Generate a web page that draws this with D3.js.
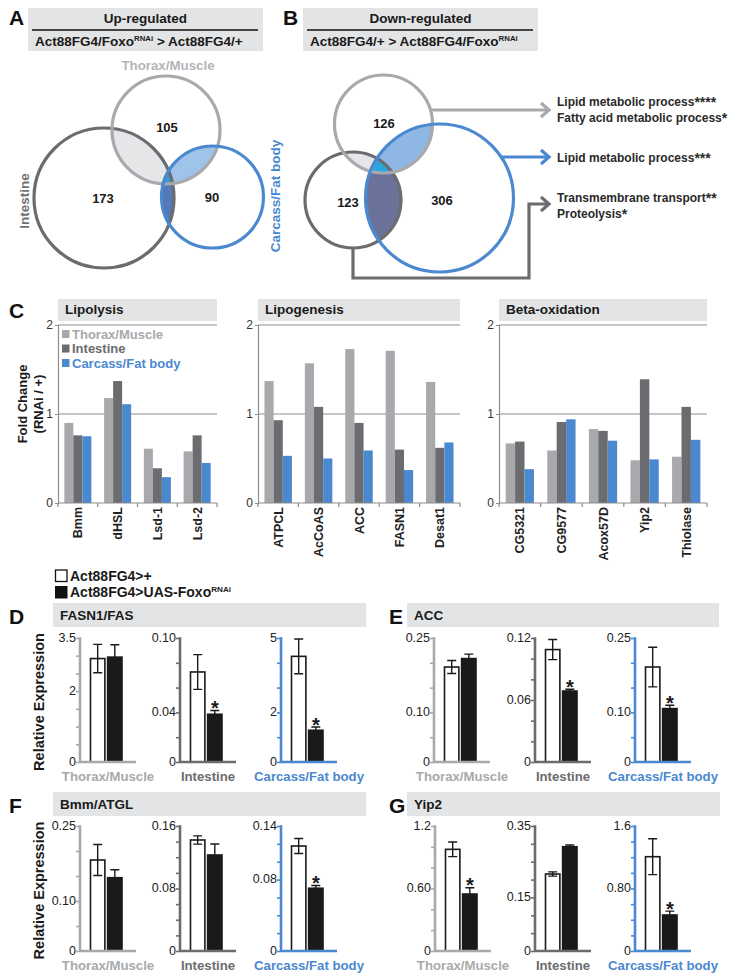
<!DOCTYPE html>
<html>
<head>
<meta charset="utf-8">
<script src="https://cdn.jsdelivr.net/npm/d3@7"></script>
<style>
  body { margin: 0; background: #fff; }
  text { font-family: "Liberation Sans", Arial, sans-serif; }
</style>
</head>
<body>
<div id="chart"></div>
<script>
// tissue colours
var thoraxColor = '#a7a9ac', gutColor = '#6b6c6f', fatColor = '#4a88cf';
var tissueColors = [thoraxColor, gutColor, fatColor];

// ---- data ----
var tissues = ['Thorax/Muscle', 'Intestine', 'Carcass/Fat body'];

// Venn counts: thorax, intestine, carcass
var upCounts = [105, 173, 90];
var downCounts = [126, 123, 306];

// GO terms for the down-regulated sets
var goThoraxTerms = ['Lipid metabolic process', 'Fatty acid metabolic process'];
var goThoraxStars = ['****', '*'];
var goFatTerms = ['Lipid metabolic process'];
var goFatStars = ['***'];
var goGutTerms = ['Transmembrane transport', 'Proteolysis'];
var goGutStars = ['**', '*'];

// C: fold change (RNAi / +), rows = thorax, intestine, carcass
var foldTicks = [0, 1, 2];
var lipolysisGenes = ['Bmm', 'dHSL', 'Lsd-1', 'Lsd-2'];
var lipolysisFold = [[0.90, 1.18, 0.61, 0.58], [0.76, 1.37, 0.39, 0.76], [0.75, 1.11, 0.29, 0.45]];
var lipogenesisGenes = ['ATPCL', 'AcCoAS', 'ACC', 'FASN1', 'Desat1'];
var lipogenesisFold = [[1.37, 1.57, 1.73, 1.71, 1.36], [0.93, 1.08, 0.90, 0.60, 0.62], [0.53, 0.50, 0.59, 0.37, 0.68]];
var betaGenes = ['CG5321', 'CG9577', 'Acox57D', 'Yip2', 'Thiolase'];
var betaFold = [[0.67, 0.59, 0.83, 0.48, 0.52], [0.69, 0.91, 0.81, 1.39, 1.08], [0.38, 0.94, 0.70, 0.49, 0.71]];

// D-G: relative expression, per tissue [control, RNAi]
var dTitle = 'FASN1/FAS';
var dMeans = [[2.92, 2.96], [0.0726, 0.0385], [4.26, 1.28]];
var dErrors = [[0.40, 0.35], [0.014, 0.003], [0.70, 0.13]];
var dMax = [3.5, 0.10, 5];
var dTickLabels = [['0', '2', '3.5'], ['0', '0.04', '0.10'], ['0', '2', '5']];
var dStep = [0.5, 0.02, 1];
var dStars = [[0, 0], [0, 1], [0, 1]];

var eTitle = 'ACC';
var eMeans = [[0.1915, 0.2085], [0.1088, 0.0687], [0.1915, 0.1077]];
var eErrors = [[0.013, 0.009], [0.0097, 0.0017], [0.040, 0.0067]];
var eMax = [0.25, 0.12, 0.25];
var eTickLabels = [['0', '0.10', '0.25'], ['0', '0.06', '0.12'], ['0', '0.10', '0.25']];
var eStep = [0.05, 0.02, 0.05];
var eStars = [[0, 0], [0, 1], [0, 1]];

var fTitle = 'Bmm/ATGL';
var fMeans = [[0.182, 0.1466], [0.1421, 0.1229], [0.1176, 0.0703]];
var fErrors = [[0.031, 0.016], [0.0053, 0.014], [0.0084, 0.003]];
var fMax = [0.25, 0.16, 0.14];
var fTickLabels = [['0', '0.10', '0.25'], ['0', '0.08', '0.16'], ['0', '0.08', '0.14']];
var fStep = [0.05, 0.02, 0.02];
var fStars = [[0, 0], [0, 0], [0, 1]];

var gTitle = 'Yip2';
var gMeans = [[0.976, 0.547], [0.2156, 0.292], [1.207, 0.461]];
var gErrors = [[0.07, 0.06], [0.006, 0.005], [0.23, 0.05]];
var gMax = [1.2, 0.35, 1.6];
var gTickLabels = [['0', '0.60', '1.2'], ['0', '0.15', '0.35'], ['0', '0.80', '1.6']];
var gStep = [0.2, 0.05, 0.2];
var gStars = [[0, 1], [0, 0], [0, 1]];

// ---- drawing ----
var svg = d3.select('#chart').append('svg')
    .attr('width', 744).attr('height', 980);
svg.append('rect').attr('width', 744).attr('height', 980).attr('fill', '#fff');
var defs = svg.append('defs');

function letter(t, x, y) {
    svg.append('text').attr('x', x).attr('y', y).text(t)
        .attr('font-size', 21).attr('font-weight', 'bold').attr('fill', '#111');
}

function headerBox(x, y, w, h) {
    svg.append('rect').attr('x', x).attr('y', y).attr('width', w).attr('height', h)
        .attr('fill', '#e3e4e5');
}

function boldText(g, t, x, y, size, color) {
    return g.append('text').attr('x', x).attr('y', y).text(t)
        .attr('font-size', size).attr('font-weight', 'bold').attr('fill', color || '#1a1a1a');
}

// genotype line with RNAi superscript
function genoLine(g, x, y, before, after, size) {
    var t = g.append('text').attr('x', x).attr('y', y)
        .attr('font-size', size).attr('font-weight', 'bold').attr('fill', '#1a1a1a');
    t.append('tspan').text(before);
    t.append('tspan').text('RNAi').attr('font-size', size * 0.58).attr('dy', -size * 0.38);
    if (after) t.append('tspan').text(after).attr('dy', size * 0.38);
    return t;
}

// ---------- A / B : Venn diagrams ----------
letter('A', 9, 25);
headerBox(28, 8, 235, 43);
boldText(svg, 'Up-regulated', 145.5, 23, 13.5).attr('text-anchor', 'middle');
svg.append('line').attr('x1', 32).attr('x2', 258).attr('y1', 30).attr('y2', 30)
    .attr('stroke', '#111').attr('stroke-width', 1.6);
genoLine(svg, 35, 46, 'Act88FG4/Foxo', ' > Act88FG4/+', 13.5);

letter('B', 283, 25);
headerBox(303, 8, 235, 43);
boldText(svg, 'Down-regulated', 420.5, 23, 13.5).attr('text-anchor', 'middle');
svg.append('line').attr('x1', 307).attr('x2', 533).attr('y1', 30).attr('y2', 30)
    .attr('stroke', '#111').attr('stroke-width', 1.6);
genoLine(svg, 310, 46, 'Act88FG4/+ > Act88FG4/Foxo', null, 13.5);

// circle layout: thorax, intestine, carcass
var vennA = {
    id: 'a',
    circles: [[166, 130, 54], [104, 198, 70], [212.5, 197, 51]],
    labels: [[167, 127], [103, 198], [212, 197]],
    fills: {ti: '#e5e6e8', tc: '#9ec4ea', ic: '#5479b6', tic: '#3a9ad9'}
};
var vennB = {
    id: 'b',
    circles: [[383.5, 124, 49], [353, 200, 48], [439.5, 198, 74]],
    labels: [[384, 123], [348, 202], [442, 200]],
    fills: {ti: '#e5e6e8', tc: '#8fb7e3', ic: '#6a7299', tic: '#2ba6df'}
};

function venn(v, counts) {
    var g = svg.append('g');
    v.circles.forEach(function (c, i) {
        defs.append('clipPath').attr('id', 'clip-' + v.id + i)
            .append('circle').attr('cx', c[0]).attr('cy', c[1]).attr('r', c[2]);
    });
    function clip(i) { return 'url(#clip-' + v.id + i + ')'; }
    function disc(parent, i, fill) {
        var c = v.circles[i];
        parent.append('circle').attr('cx', c[0]).attr('cy', c[1]).attr('r', c[2]).attr('fill', fill);
    }
    disc(g.append('g').attr('clip-path', clip(0)), 1, v.fills.ti);
    disc(g.append('g').attr('clip-path', clip(0)), 2, v.fills.tc);
    disc(g.append('g').attr('clip-path', clip(1)), 2, v.fills.ic);
    disc(g.append('g').attr('clip-path', clip(0)).append('g').attr('clip-path', clip(1)), 2, v.fills.tic);
    [1, 0, 2].forEach(function (i) {
        var c = v.circles[i];
        g.append('circle').attr('cx', c[0]).attr('cy', c[1]).attr('r', c[2])
            .attr('fill', 'none').attr('stroke', tissueColors[i]).attr('stroke-width', 3.2);
    });
    g.selectAll('.count').data(counts).enter().append('text')
        .attr('x', function (d, i) { return v.labels[i][0]; })
        .attr('y', function (d, i) { return v.labels[i][1]; })
        .attr('dy', '0.36em').attr('text-anchor', 'middle')
        .attr('font-size', 13).attr('font-weight', 'bold').attr('fill', '#1a1a1a')
        .text(function (d) { return d; });
}
venn(vennA, upCounts);
venn(vennB, downCounts);

// tissue names around Venn A
boldText(svg, tissues[0], 168, 70, 13.3, '#b3b5b8').attr('text-anchor', 'middle');
boldText(svg, tissues[1], 0, 0, 13.5, '#707174').attr('text-anchor', 'middle')
    .attr('transform', 'translate(29,201) rotate(-90)');
boldText(svg, tissues[2], 0, 0, 13.5, fatColor).attr('text-anchor', 'middle')
    .attr('transform', 'translate(280,196) rotate(-90)');

// arrows from Venn B to GO terms
function chevron(x, y, color) {
    svg.append('polyline')
        .attr('points', [[x - 8, y - 7], [x, y], [x - 8, y + 7]].join(' '))
        .attr('fill', 'none').attr('stroke', color).attr('stroke-width', 3.2)
        .attr('stroke-linejoin', 'miter');
}
var arrowTip = 549;
svg.append('path').attr('d', 'M432,110H' + (arrowTip - 1))
    .attr('stroke', thoraxColor).attr('stroke-width', 3.2).attr('fill', 'none');
chevron(arrowTip, 110, thoraxColor);
svg.append('path').attr('d', 'M500,157H' + (arrowTip - 1))
    .attr('stroke', fatColor).attr('stroke-width', 3.2).attr('fill', 'none');
chevron(arrowTip, 157, fatColor);
svg.append('path').attr('d', 'M353,248V278H529V204H' + (arrowTip - 1))
    .attr('stroke', gutColor).attr('stroke-width', 3.2).attr('fill', 'none');
chevron(arrowTip, 204, gutColor);

function goList(terms, stars, y0) {
    terms.forEach(function (t, i) {
        var tx = svg.append('text').attr('x', 557).attr('y', y0 + i * 16)
            .attr('font-size', 12).attr('font-weight', 'bold').attr('fill', '#2a2a2a');
        tx.append('tspan').text(t);
        tx.append('tspan').text(stars[i]).attr('font-size', 14).attr('dy', 1);
    });
}
goList(goThoraxTerms, goThoraxStars, 106);
goList(goFatTerms, goFatStars, 162);
goList(goGutTerms, goGutStars, 202);

// ---------- C : fold change bars ----------
letter('C', 9, 318);
var yFold = d3.scaleLinear().domain([0, 2]).range([503, 325]);

function foldPanel(title, genes, values, x0, x1) {
    headerBox(x0, 299, x1 - x0, 22);
    boldText(svg, title, x0 + 7, 314, 13.5);
    var g = svg.append('g');
    var x = d3.scaleBand().domain(genes).range([x0, x1]).paddingInner(0.32).paddingOuter(0.16);
    var xi = d3.scaleBand().domain([0, 1, 2]).range([0, x.bandwidth()]);

    // grid lines at 1 and 2
    g.selectAll('.grid').data(foldTicks.slice(1)).enter().append('line')
        .attr('x1', x0).attr('x2', x1)
        .attr('y1', function (d) { return yFold(d); }).attr('y2', function (d) { return yFold(d); })
        .attr('stroke', '#8e8e8e').attr('stroke-width', 1.2);

    // bars
    genes.forEach(function (gene, gi) {
        values.forEach(function (row, ti) {
            g.append('rect')
                .attr('x', x(gene) + xi(ti)).attr('width', xi.bandwidth())
                .attr('y', yFold(row[gi])).attr('height', yFold(0) - yFold(row[gi]))
                .attr('fill', tissueColors[ti]);
        });
    });

    // axes
    var ya = g.append('g').attr('transform', 'translate(' + x0 + ',0)')
        .call(d3.axisLeft(yFold).tickValues(foldTicks).tickSize(3).tickPadding(2).tickFormat(d3.format('d')));
    ya.select('.domain').attr('stroke', '#8e8e8e').attr('stroke-width', 1.2);
    ya.selectAll('.tick line').attr('stroke', '#8e8e8e');
    ya.selectAll('.tick text').attr('font-size', 12).attr('fill', '#333')
        .attr('font-family', '"Liberation Sans", Arial, sans-serif');

    g.append('line').attr('x1', x0).attr('x2', x1).attr('y1', yFold(0)).attr('y2', yFold(0))
        .attr('stroke', '#8e8e8e').attr('stroke-width', 1.2);
    var edges = d3.range(genes.length + 1).map(function (i) { return x0 + i * x.step(); });
    g.selectAll('.xt').data(edges).enter().append('line')
        .attr('x1', function (d) { return d; }).attr('x2', function (d) { return d; })
        .attr('y1', yFold(0)).attr('y2', yFold(0) + 4)
        .attr('stroke', '#8e8e8e').attr('stroke-width', 1.2);

    g.selectAll('.xl').data(genes).enter().append('text')
        .attr('transform', function (d) {
            return 'translate(' + (x(d) + x.bandwidth() / 2) + ',507) rotate(-90)';
        })
        .attr('text-anchor', 'end').attr('dy', '0.36em')
        .attr('font-size', 12.5).attr('font-weight', 'bold').attr('fill', '#222')
        .text(function (d) { return d; });
}
foldPanel('Lipolysis', lipolysisGenes, lipolysisFold, 58, 217);
foldPanel('Lipogenesis', lipogenesisGenes, lipogenesisFold, 258, 460);
foldPanel('Beta-oxidation', betaGenes, betaFold, 499, 707);

// legend C
tissues.forEach(function (t, i) {
    var y = 334 + i * 14.5;
    svg.append('rect').attr('x', 62).attr('y', y - 4).attr('width', 7.5).attr('height', 8)
        .attr('fill', tissueColors[i]);
    boldText(svg, t, 72, y + 4.7, 13, tissueColors[i]);
});

// y label C
var fl = svg.append('g').attr('transform', 'translate(0,404) rotate(-90)');
boldText(fl, 'Fold Change', 0, 27, 13).attr('text-anchor', 'middle');
boldText(fl, '(RNAi / +)', 0, 43, 13).attr('text-anchor', 'middle');

// ---------- legend for D-G ----------
svg.append('rect').attr('x', 55.5).attr('y', 570).attr('width', 11.5).attr('height', 11.5)
    .attr('fill', '#fff').attr('stroke', '#111').attr('stroke-width', 1.3);
svg.append('rect').attr('x', 55).attr('y', 586).attr('width', 12.5).attr('height', 12.5)
    .attr('fill', '#111');
boldText(svg, 'Act88FG4>+', 70, 581, 14);
genoLine(svg, 70, 597, 'Act88FG4>UAS-Foxo', null, 14);

// ---------- D-G : qPCR panels ----------
function qpcrPanel(p) {
    letter(p.letter, p.lx, p.ly);
    headerBox(p.hx, p.hy, p.hw, 24);
    boldText(svg, p.title, p.hx + 7, p.hy + 17, 13.5);
    var g = svg.append('g');
    p.means.forEach(function (m, ti) {
        var ax = p.axes[ti];
        var col = tissueColors[ti];
        var y = d3.scaleLinear().domain([0, p.max[ti]]).range([p.yBot, p.yTop]);
        var x = d3.scaleBand().domain([0, 1]).range([ax + 10.5, ax + 42]).paddingInner(0.16);

        // bars with error bars
        m.forEach(function (v, k) {
            g.append('rect').attr('x', x(k)).attr('width', x.bandwidth())
                .attr('y', y(v)).attr('height', y(0) - y(v))
                .attr('fill', k ? '#1a1a1a' : '#fff')
                .attr('stroke', '#1a1a1a').attr('stroke-width', 1.6);
            var e = p.errors[ti][k], cx = x(k) + x.bandwidth() / 2;
            g.append('path')
                .attr('d', 'M' + cx + ',' + y(v - e) + 'V' + y(v + e) +
                    'M' + (cx - 4.5) + ',' + y(v + e) + 'H' + (cx + 4.5) +
                    'M' + (cx - 4.5) + ',' + y(v - e) + 'H' + (cx + 4.5))
                .attr('stroke', '#1a1a1a').attr('stroke-width', 1.4).attr('fill', 'none');
            if (k && p.stars[ti][k]) {
                g.append('text').attr('x', cx).attr('y', y(v + e) + 4.5)
                    .attr('text-anchor', 'middle').attr('font-size', 20).attr('font-weight', 'bold')
                    .attr('fill', '#1a1a1a').text('*');
            }
        });
        var ticks = d3.range(0, p.max[ti] + p.step[ti] / 2, p.step[ti]);
        var ya = g.append('g').attr('transform', 'translate(' + ax + ',0)')
            .call(d3.axisLeft(y).tickValues(ticks).tickSize(4).tickFormat(''));
        ya.select('.domain').remove();
        ya.selectAll('.tick line').attr('stroke', col).attr('stroke-width', 1.6);
        g.append('line').attr('x1', ax).attr('x2', ax).attr('y1', p.yTop - 0.8).attr('y2', p.yBot + 1)
            .attr('stroke', col).attr('stroke-width', 2.6);
        g.append('line').attr('x1', ax).attr('x2', ax + 56).attr('y1', p.yBot).attr('y2', p.yBot)
            .attr('stroke', col).attr('stroke-width', 2.6);
        g.selectAll('.tl' + ti).data(p.labels[ti]).enter().append('text')
            .attr('x', ax - 4).attr('y', function (d) { return y(+d); })
            .attr('dy', '0.3em').attr('text-anchor', 'end')
            .attr('font-size', 12.5).attr('fill', '#222')
            .text(function (d) { return d; });
        boldText(g, tissues[ti], ax + 28, p.yBot + 19, 13.2, col).attr('text-anchor', 'middle');
    });
    if (p.ylabel) {
        boldText(svg, 'Relative Expression', 0, 0, 14.5).attr('text-anchor', 'middle')
            .attr('transform', 'translate(44,' + ((p.yTop + p.yBot) / 2 + 2) + ') rotate(-90)');
    }
}

qpcrPanel({letter: 'D', lx: 9, ly: 624, hx: 53, hy: 603, hw: 313, title: dTitle,
    axes: [80, 180, 281], yTop: 638, yBot: 762, means: dMeans, errors: dErrors, max: dMax,
    labels: dTickLabels, step: dStep, stars: dStars, ylabel: true});
qpcrPanel({letter: 'E', lx: 389, ly: 624, hx: 407, hy: 603, hw: 312, title: eTitle,
    axes: [434, 535, 635], yTop: 638, yBot: 762, means: eMeans, errors: eErrors, max: eMax,
    labels: eTickLabels, step: eStep, stars: eStars, ylabel: false});
qpcrPanel({letter: 'F', lx: 9, ly: 813, hx: 53, hy: 792, hw: 313, title: fTitle,
    axes: [80, 180, 281], yTop: 826, yBot: 951, means: fMeans, errors: fErrors, max: fMax,
    labels: fTickLabels, step: fStep, stars: fStars, ylabel: true});
qpcrPanel({letter: 'G', lx: 389, ly: 813, hx: 407, hy: 792, hw: 313, title: gTitle,
    axes: [435, 535, 635], yTop: 826, yBot: 951, means: gMeans, errors: gErrors, max: gMax,
    labels: gTickLabels, step: gStep, stars: gStars, ylabel: false});
</script>
</body>
</html>
